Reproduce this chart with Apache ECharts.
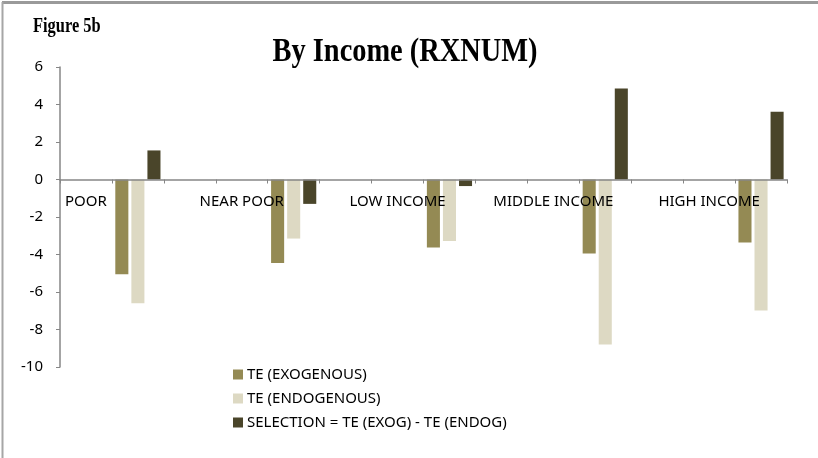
<!DOCTYPE html>
<html>
<head>
<meta charset="utf-8">
<script src="https://cdn.jsdelivr.net/npm/echarts@6/dist/echarts.min.js"></script>
<style>
  html, body { margin: 0; padding: 0; background: #ffffff; }
  #chart { width: 818px; height: 458px; }
</style>
</head>
<body>
<div id="chart"></div>
<script>
// Income groups and the three treatment-effect series (RXNUM)
const groups = ['POOR', 'NEAR POOR', 'LOW INCOME', 'MIDDLE INCOME', 'HIGH INCOME'];
const teExogenous = [-5.05, -4.45, -3.63, -3.95, -3.36];
const teEndogenous = [-6.6, -3.15, -3.28, -8.8, -6.98];
const selection = [1.55, -1.3, -0.35, 4.85, 3.62];
const seriesNames = ['TE (EXOGENOUS)', 'TE (ENDOGENOUS)', 'SELECTION = TE (EXOG) - TE (ENDOG)'];
const yTicks = { min: -10, max: 6, step: 2 };

// Each group occupies three category slots: the label slot, the bar slot, and a spacer.
const slots = [];
groups.forEach((g) => {
  slots.push(g, '', '');
});
slots.pop(); // the last group has no trailing spacer

function spread(values) {
  const out = [];
  values.forEach((v, i) => {
    out.push(null, v);
    if (i < values.length - 1) out.push(null);
  });
  return out;
}

const W = 818, H = 458;
const grid = { left: 60, right: 31, top: 67, bottom: 91 };
const plotHeight = H - grid.top - grid.bottom;
// lift the category axis (line, ticks and labels) up to the zero line
const zeroOffset = plotHeight * (0 - yTicks.min) / (yTicks.max - yTicks.min);

const font = '"Noto Sans", sans-serif';
const colors = ['#948A54', '#DDD9C3', '#4A452A'];

const chart = echarts.init(document.getElementById('chart'), null, { renderer: 'canvas' });

chart.setOption({
  animation: false,
  backgroundColor: '#ffffff',
  graphic: [
    { type: 'line', shape: { x1: 2, y1: 2.5, x2: W, y2: 2.5 }, style: { stroke: '#9a9a9a', lineWidth: 3 } },
    { type: 'line', shape: { x1: 2.5, y1: 2, x2: 2.5, y2: H }, style: { stroke: '#a6a6a6', lineWidth: 2 } },
    {
      type: 'text', x: 405, y: 52, scaleX: 0.86,
      style: {
        text: 'By Income (RXNUM)', fill: '#000',
        font: 'bold 33px "Liberation Serif", serif',
        textAlign: 'center', textVerticalAlign: 'middle'
      }
    },
    {
      type: 'text', x: 33, y: 27, scaleX: 0.82,
      style: {
        text: 'Figure 5b', fill: '#000',
        font: 'bold 20px "Liberation Serif", serif',
        textAlign: 'left', textVerticalAlign: 'middle'
      }
    }
  ],
  legend: {
    orient: 'vertical',
    left: 228,
    top: 362,
    itemWidth: 10,
    itemHeight: 10,
    itemGap: 9,
    icon: 'rect',
    textStyle: { fontFamily: font, fontSize: 15, color: '#000', padding: [0, 0, 0, -1] },
    data: seriesNames
  },
  grid: { left: grid.left, right: grid.right, top: grid.top, bottom: grid.bottom, containLabel: false },
  xAxis: {
    type: 'category',
    data: slots,
    position: 'bottom',
    offset: -zeroOffset,
    z: 5,
    axisLine: { onZero: false, lineStyle: { color: '#868686', width: 1.5 } },
    axisTick: { show: true, interval: 0, length: 4, lineStyle: { color: '#868686' } },
    axisLabel: { interval: 0, margin: 15, fontFamily: font, fontSize: 15, color: '#000' },
    splitLine: { show: false }
  },
  yAxis: {
    type: 'value',
    min: yTicks.min,
    max: yTicks.max,
    interval: yTicks.step,
    axisLine: { show: true, lineStyle: { color: '#868686', width: 1.5 } },
    axisTick: { show: true, length: 4, lineStyle: { color: '#868686' } },
    axisLabel: { margin: 17, fontFamily: font, fontSize: 15, color: '#000' },
    splitLine: { show: false }
  },
  series: [
    { name: seriesNames[0], type: 'bar', data: spread(teExogenous), itemStyle: { color: colors[0] }, barGap: '23%', barCategoryGap: '13%' },
    { name: seriesNames[1], type: 'bar', data: spread(teEndogenous), itemStyle: { color: colors[1] }, barGap: '23%', barCategoryGap: '13%' },
    { name: seriesNames[2], type: 'bar', data: spread(selection), itemStyle: { color: colors[2] }, barGap: '23%', barCategoryGap: '13%' }
  ]
});
</script>
</body>
</html>
